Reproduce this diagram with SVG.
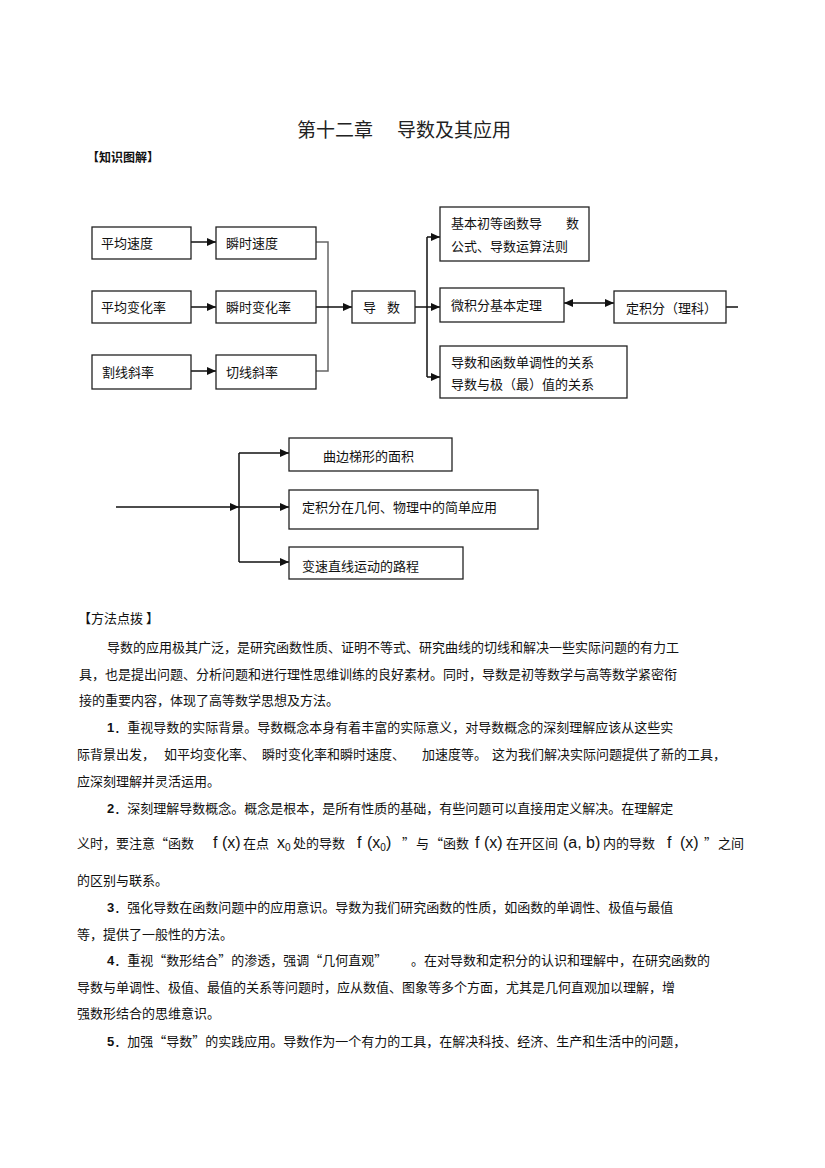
<svg xmlns="http://www.w3.org/2000/svg" width="825" height="1168" viewBox="0 0 825 1168">
<defs>
<marker id="arr" markerUnits="userSpaceOnUse" markerWidth="10" markerHeight="8" refX="9" refY="4" orient="auto-start-reverse">
<path d="M0,0 L9,4 L0,8 z" fill="#111"/>
</marker>
<style>
.box{fill:#fff;stroke:#222;stroke-width:1.3}
.t{font-family:'Noto Sans CJK SC',sans-serif;font-size:13px;fill:#111}
.b{font-family:'Noto Sans CJK SC',sans-serif;font-size:13px;fill:#111}
.m{font-family:'Liberation Sans',Arial,sans-serif;font-size:16px;fill:#111}
.sub{font-family:'Liberation Sans',Arial,sans-serif;font-size:10px;fill:#111}
.num{font-family:'Liberation Sans',Arial,sans-serif;font-weight:bold;font-size:13px}
.ln{fill:none;stroke:#111;stroke-width:1.5}
.lg{fill:none;stroke:#666;stroke-width:1.5}
.ar{marker-end:url(#arr)}
</style>
</defs>
<rect width="825" height="1168" fill="#fff"/>

<g id="title">
<text x="297" y="137" style="font-family:'Noto Sans CJK SC',sans-serif;font-size:19px;fill:#222">第十二章</text>
<text x="397" y="137" style="font-family:'Noto Sans CJK SC',sans-serif;font-size:19px;fill:#222">导数及其应用</text>
</g>
<text x="87" y="162" style="font-family:'Noto Sans CJK SC',sans-serif;font-size:12px;font-weight:bold;fill:#111">【知识图解】</text>

<g id="connectors">
<line class="ln ar" x1="191" y1="242" x2="216" y2="242"/>
<line class="ln ar" x1="191" y1="307" x2="216" y2="307"/>
<line class="ln ar" x1="191" y1="371" x2="216" y2="371"/>
<polyline class="lg" points="316,242 328,242 328,371 316,371"/>
<line class="ln ar" x1="316" y1="307" x2="352" y2="307"/>
<line class="ln" x1="415" y1="307" x2="427" y2="307"/>
<line class="ln" x1="427" y1="237" x2="427" y2="377"/>
<line class="ln ar" x1="427" y1="237" x2="440" y2="237"/>
<line class="ln ar" x1="427" y1="307" x2="440" y2="307"/>
<line class="ln ar" x1="427" y1="377" x2="440" y2="377"/>
<line class="ln" x1="564" y1="303" x2="614" y2="303" marker-start="url(#arr)" marker-end="url(#arr)"/>
<line class="ln" x1="726" y1="307" x2="738" y2="307"/>
<line class="ln ar" x1="116" y1="507" x2="239" y2="507"/>
<line class="ln" x1="239" y1="453" x2="239" y2="562"/>
<line class="ln ar" x1="239" y1="453" x2="289" y2="453"/>
<line class="ln ar" x1="239" y1="507" x2="289" y2="507"/>
<line class="ln ar" x1="239" y1="562" x2="289" y2="562"/>
</g>

<g id="n-pjsd"><rect class="box" x="92" y="227" width="99" height="32"/><text class="t" x="101" y="248">平均速度</text></g>
<g id="n-sssd"><rect class="box" x="216" y="227" width="100" height="32"/><text class="t" x="226" y="248">瞬时速度</text></g>
<g id="n-pjbhl"><rect class="box" x="92" y="291" width="99" height="32"/><text class="t" x="101" y="312">平均变化率</text></g>
<g id="n-ssbhl"><rect class="box" x="216" y="291" width="100" height="32"/><text class="t" x="226" y="312">瞬时变化率</text></g>
<g id="n-gxxl"><rect class="box" x="92" y="355" width="99" height="34"/><text class="t" x="102" y="377">割线斜率</text></g>
<g id="n-qxxl"><rect class="box" x="216" y="355" width="100" height="34"/><text class="t" x="226" y="377">切线斜率</text></g>
<g id="n-ds"><rect class="box" x="352" y="291" width="63" height="32"/><text class="t" x="363" y="312">导<tspan x="387">数</tspan></text></g>
<g id="n-jbcd"><rect class="box" x="440" y="207" width="149" height="54"/><text class="t" x="451" y="228">基本初等函数导<tspan x="566">数</tspan></text><text class="t" x="451" y="251">公式、导数运算法则</text></g>
<g id="n-wjf"><rect class="box" x="440" y="288" width="124" height="34"/><text class="t" x="451" y="310">微积分基本定理</text></g>
<g id="n-djf"><rect class="box" x="614" y="291" width="112" height="32"/><text class="t" x="626" y="313">定积分（理科）</text></g>
<g id="n-dxx"><rect class="box" x="440" y="346" width="187" height="52"/><text class="t" x="451" y="367">导数和函数单调性的关系</text><text class="t" x="451" y="389">导数与极（最）值的关系</text></g>
<g id="n-qbtx"><rect class="box" x="289" y="438" width="163" height="33"/><text class="t" x="323" y="461">曲边梯形的面积</text></g>
<g id="n-djfyy"><rect class="box" x="289" y="490" width="249" height="39"/><text class="t" x="302" y="512">定积分在几何、物理中的简单应用</text></g>
<g id="n-bszx"><rect class="box" x="289" y="547" width="174" height="32"/><text class="t" x="302" y="571">变速直线运动的路程</text></g>

<g id="body">
<text class="b" x="78" y="623">【方法点拨 】</text>
<text class="b" x="107" y="652">导数的应用极其广泛，是研究函数性质、证明不等式、研究曲线的切线和解决一些实际问题的有力工</text>
<text class="b" x="79" y="679">具，也是提出问题、分析问题和进行理性思维训练的良好素材。同时，导数是初等数学与高等数学紧密衔</text>
<text class="b" x="79" y="705">接的重要内容，体现了高等数学思想及方法。</text>
<text class="b" x="107" y="732"><tspan class="num">1</tspan>．重视导数的实际背景。导数概念本身有着丰富的实际意义，对导数概念的深刻理解应该从这些实</text>
<text class="b" y="759"><tspan x="77">际背景出发，</tspan><tspan x="164">如平均变化率、</tspan><tspan x="262">瞬时变化率和瞬时速度、</tspan><tspan x="422">加速度等。</tspan><tspan x="492">这为我们解决实际问题提供了新的工具，</tspan></text>
<text class="b" x="77" y="786">应深刻理解并灵活运用。</text>
<text class="b" x="107" y="813"><tspan class="num">2</tspan>．深刻理解导数概念。概念是根本，是所有性质的基础，有些问题可以直接用定义解决。在理解定</text>
<text class="b" x="77" y="848">义时，要注意“函数</text>
<text class="m" x="213" y="848">f (x)</text>
<text class="b" x="243" y="848">在点</text>
<text class="m" x="277" y="848">x<tspan class="sub" dy="3">0</tspan></text>
<text class="b" x="293" y="848">处的导数</text>
<text class="m" x="357" y="848">f<tspan x="367">(x</tspan><tspan class="sub" dy="3">0</tspan><tspan dy="-3">)</tspan></text>
<text class="b" x="402" y="848">”</text>
<text class="b" x="416" y="848">与</text>
<text class="b" x="430" y="848">“函数</text>
<text class="m" x="475" y="848">f (x)</text>
<text class="b" x="506" y="848">在开区间</text>
<text class="m" x="563" y="848">(a, b)</text>
<text class="b" x="603" y="848">内的导数</text>
<text class="m" x="667" y="848">f<tspan x="680">(x)</tspan></text>
<text class="b" x="704" y="848">”</text>
<text class="b" x="718" y="848">之间</text>
<text class="b" x="77" y="885">的区别与联系。</text>
<text class="b" x="107" y="912"><tspan class="num">3</tspan>．强化导数在函数问题中的应用意识。导数为我们研究函数的性质，如函数的单调性、极值与最值</text>
<text class="b" x="77" y="939">等，提供了一般性的方法。</text>
<text class="b" x="107" y="965"><tspan class="num">4</tspan>．重视“数形结合”的渗透，强调“几何直观”</text>
<text class="b" x="411" y="965">。在对导数和定积分的认识和理解中，在研究函数的</text>
<text class="b" x="77" y="992">导数与单调性、极值、最值的关系等问题时，应从数值、图象等多个方面，尤其是几何直观加以理解，增</text>
<text class="b" x="77" y="1018">强数形结合的思维意识。</text>
<text class="b" x="107" y="1046"><tspan class="num">5</tspan>．加强“导数”的实践应用。导数作为一个有力的工具，在解决科技、经济、生产和生活中的问题，</text>
</g>
</svg>
